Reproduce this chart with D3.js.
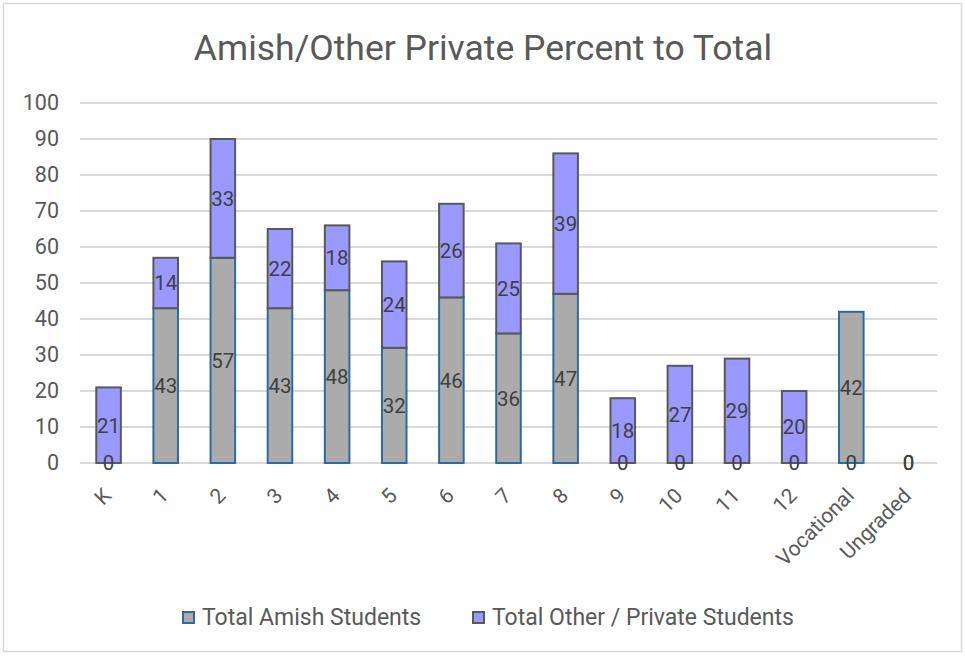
<!DOCTYPE html>
<html>
<head>
<meta charset="utf-8">
<script src="https://cdn.jsdelivr.net/npm/d3@7"></script>
<style>
  body { margin: 0; background: #fff; }
  svg text { font-family: Roboto, "Noto Sans", sans-serif; }
</style>
</head>
<body>
<svg></svg>
<script>
let grades = ['K', '1', '2', '3', '4', '5', '6', '7', '8', '9', '10', '11', '12', 'Vocational', 'Ungraded'];
let amish = [0, 43, 57, 43, 48, 32, 46, 36, 47, 0, 0, 0, 0, 0, 0];
let other = [21, 14, 33, 22, 18, 24, 26, 25, 39, 18, 27, 29, 20, 42, 0];
let yTicks = [0, 10, 20, 30, 40, 50, 60, 70, 80, 90, 100];
let seriesNames = ['Total Amish Students', 'Total Other / Private Students'];

let width = 965;
let height = 656;
let plotLeft = 80;
let plotRight = 937;
let plotTop = 103;
let plotBottom = 463;

let svg = d3.select('svg').attr('width', width).attr('height', height);

// outer frame
svg.append('rect').
attr('x', 3.5).attr('y', 3.5).
attr('width', width - 7).attr('height', height - 8).
attr('fill', '#fff').attr('stroke', '#d9d9d9').attr('stroke-width', 1.5);

svg.append('text').
attr('x', 483).attr('y', 60).
attr('text-anchor', 'middle').
attr('font-size', 35.5).
attr('fill', '#595959').
text('Amish/Other Private Percent to Total');

let xScale = d3.scaleBand().domain(grades).range([plotLeft, plotRight]).paddingInner(0.57).paddingOuter(0.285);
let yScale = d3.scaleLinear().domain([0, 100]).range([plotBottom, plotTop]);

// gridlines
svg.selectAll('line.grid').
data(yTicks).
enter().
append('line').
attr('class', 'grid').
attr('x1', plotLeft).attr('x2', plotRight).
attr('y1', d => yScale(d)).attr('y2', d => yScale(d)).
attr('stroke', '#d9d9d9').attr('stroke-width', 2);

let yAxis = d3.axisLeft(yScale).tickValues(yTicks).tickSize(0).tickPadding(0);
let gy = svg.append('g').attr('transform', 'translate(59,0)').call(yAxis);
gy.select('.domain').remove();
gy.selectAll('text').attr('font-size', 21.5).attr('fill', '#595959');

let rows = grades.map((g, i) => ({ grade: g, amish: amish[i], other: other[i] }));

// amish segments
svg.selectAll('rect.amish').
data(rows).
enter().
append('rect').
attr('class', 'amish').
attr('x', d => xScale(d.grade)).
attr('width', xScale.bandwidth()).
attr('y', d => yScale(d.amish)).
attr('height', d => yScale(0) - yScale(d.amish)).
attr('fill', '#ababab').
attr('stroke', '#2e6aa2').attr('stroke-width', 2).
style('display', d => d.amish > 0 ? null : 'none');

// other segments (vocational point is styled like the amish series in the source)
svg.selectAll('rect.other').
data(rows).
enter().
append('rect').
attr('class', 'other').
attr('x', d => xScale(d.grade)).
attr('width', xScale.bandwidth()).
attr('y', d => yScale(d.amish + d.other)).
attr('height', d => yScale(d.amish) - yScale(d.amish + d.other)).
attr('fill', d => d.grade === 'Vocational' ? '#ababab' : '#9999ff').
attr('stroke', d => d.grade === 'Vocational' ? '#2e6aa2' : '#595959').
attr('stroke-width', 2).
style('display', d => d.other > 0 ? null : 'none');

// labels
let labels = [];
rows.forEach(d => {
  labels.push({ grade: d.grade, v: d.amish, mid: d.amish / 2 });
  labels.push({ grade: d.grade, v: d.other, mid: d.amish + d.other / 2 });
});
svg.selectAll('text.lbl').
data(labels).
enter().
append('text').
attr('class', 'lbl').
attr('x', d => xScale(d.grade) + xScale.bandwidth() / 2).
attr('y', d => yScale(d.mid)).
attr('dy', '0.36em').
attr('text-anchor', 'middle').
attr('font-size', 20.5).
attr('fill', '#404040').
text(d => d.v);

// x labels
svg.selectAll('text.xl').
data(grades).
enter().
append('text').
attr('class', 'xl').
attr('text-anchor', 'end').
attr('font-size', 21).
attr('fill', '#595959').
attr('transform', d => 'translate(' + (xScale(d) + xScale.bandwidth() / 2 + 4) + ',' + 497 + ') rotate(-45)').
text(d => d);

// legend
let legend = [
  { name: seriesNames[0], fill: '#ababab', stroke: '#2e6aa2', x: 183 },
  { name: seriesNames[1], fill: '#9999ff', stroke: '#595959', x: 473 }
];
let lg = svg.selectAll('g.leg').data(legend).enter().append('g').attr('class', 'leg');
lg.append('rect').
attr('x', d => d.x).attr('y', 612).
attr('width', 11).attr('height', 11).
attr('fill', d => d.fill).attr('stroke', d => d.stroke).attr('stroke-width', 2);
lg.append('text').
attr('x', d => d.x + 19).attr('y', 625).
attr('font-size', 23).attr('fill', '#595959').
text(d => d.name);
</script>
</body>
</html>
